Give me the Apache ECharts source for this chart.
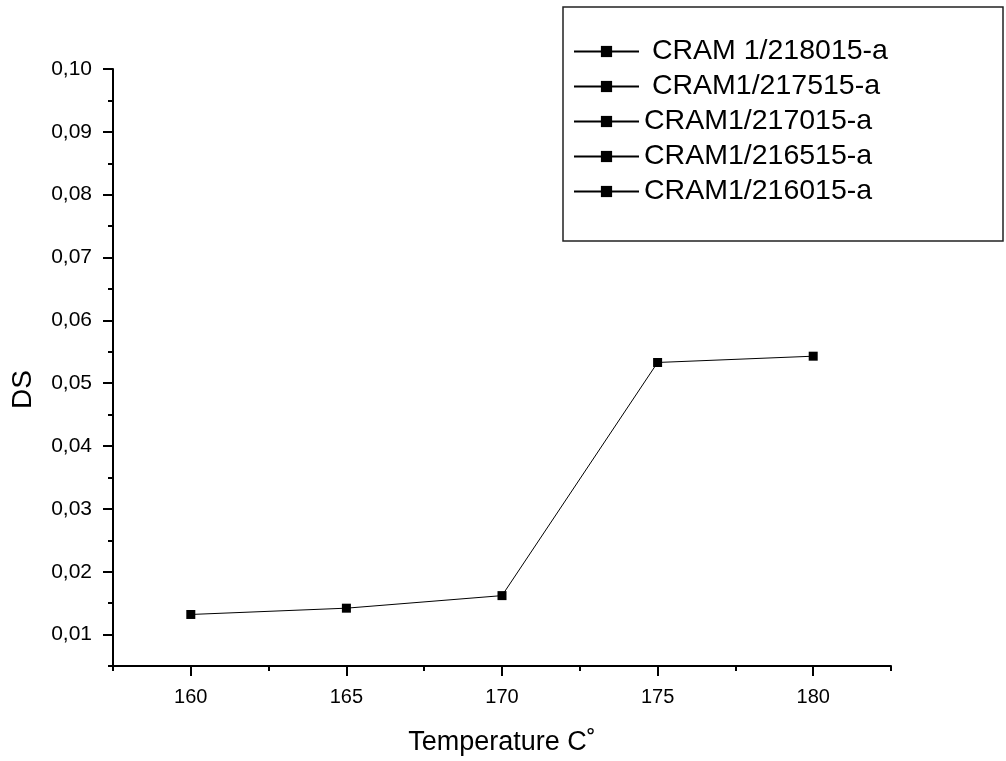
<!DOCTYPE html>
<html>
<head>
<meta charset="utf-8">
<script src="https://cdn.jsdelivr.net/npm/echarts@6/dist/echarts.min.js"></script>
<style>
  html, body { margin: 0; padding: 0; background: #fff; }
  #chart { width: 1006px; height: 761px; }
</style>
</head>
<body>
<div id="chart"></div>
<script>
// data
var temperature = [160, 165, 170, 175, 180];
var ds = [0.0132, 0.0142, 0.0162, 0.0533, 0.0543];
var seriesNames = [' CRAM 1/218015-a', ' CRAM1/217515-a', 'CRAM1/217015-a', 'CRAM1/216515-a', 'CRAM1/216015-a'];
var xTicks = [160, 165, 170, 175, 180];
var xMinorTicks = [157.5, 162.5, 167.5, 172.5, 177.5, 182.5];
var yTicks = [0.01, 0.02, 0.03, 0.04, 0.05, 0.06, 0.07, 0.08, 0.09, 0.10];
var yMinorTicks = [0.005, 0.015, 0.025, 0.035, 0.045, 0.055, 0.065, 0.075, 0.085, 0.095];

var font = 'Liberation Sans, Arial, sans-serif';
var chart = echarts.init(document.getElementById('chart'));

var points = temperature.map(function (t, i) { return [t, ds[i]]; });

var series = seriesNames.map(function (name, i) {
    return {
        name: name,
        type: 'line',
        xAxisIndex: 0,
        yAxisIndex: 0,
        data: i === 0 ? points : [],
        symbol: 'rect',
        symbolSize: 9,
        showSymbol: true,
        lineStyle: { color: '#000', width: 1 },
        itemStyle: { color: '#000' },
        emphasis: { disabled: true },
        animation: false
    };
});

chart.setOption({
    animation: false,
    grid: { left: 113, right: 115, top: 69, bottom: 94 },
    graphic: [{
        type: 'rect',
        shape: { x: 563, y: 7, width: 440, height: 234 },
        style: { fill: 'none', stroke: '#222', lineWidth: 1.5 },
        z: 10
    }],
    legend: {
        orient: 'vertical',
        left: 568,
        top: 32,
        itemWidth: 65,
        itemHeight: 14,
        itemGap: 6,
        textStyle: { fontFamily: font, fontSize: 28.5, color: '#000' },
        data: seriesNames,
        selectedMode: false
    },
    xAxis: [{
        type: 'value',
        min: 157.5,
        max: 182.5,
        name: 'Temperature C\u02DA',
        nameLocation: 'middle',
        nameGap: 63,
        nameMoveOverlap: false,
        nameTextStyle: { fontFamily: font, fontSize: 27, color: '#000' },
        axisLine: { show: true, lineStyle: { color: '#000', width: 2 } },
        axisTick: { show: true, length: 10, inside: false, customValues: xTicks, lineStyle: { color: '#000', width: 2 } },
        axisLabel: { customValues: xTicks, margin: 21, fontFamily: font, fontSize: 20, color: '#000' },
        splitLine: { show: false }
    }, {
        type: 'value',
        min: 157.5,
        max: 182.5,
        position: 'bottom',
        axisLine: { show: false },
        axisTick: { show: true, length: 5, customValues: xMinorTicks, lineStyle: { color: '#000', width: 2 } },
        axisLabel: { show: false },
        splitLine: { show: false }
    }],
    yAxis: [{
        type: 'value',
        min: 0.005,
        max: 0.10,
        name: 'DS',
        nameLocation: 'middle',
        nameGap: 76,
        nameMoveOverlap: false,
        nameTextStyle: { fontFamily: font, fontSize: 28, color: '#000', padding: [0, 44, 0, 0] },
        axisLine: { show: true, lineStyle: { color: '#000', width: 2 } },
        axisTick: { show: true, length: 10, customValues: yTicks, lineStyle: { color: '#000', width: 2 } },
        axisLabel: {
            customValues: yTicks,
            margin: 21,
            fontFamily: font,
            fontSize: 21,
            color: '#000',
            formatter: function (v) { return v.toFixed(2).replace('.', ','); }
        },
        splitLine: { show: false }
    }, {
        type: 'value',
        min: 0.005,
        max: 0.10,
        position: 'left',
        axisLine: { show: false },
        axisTick: { show: true, length: 5, customValues: yMinorTicks, lineStyle: { color: '#000', width: 2 } },
        axisLabel: { show: false },
        splitLine: { show: false }
    }],
    series: series
});
</script>
</body>
</html>
